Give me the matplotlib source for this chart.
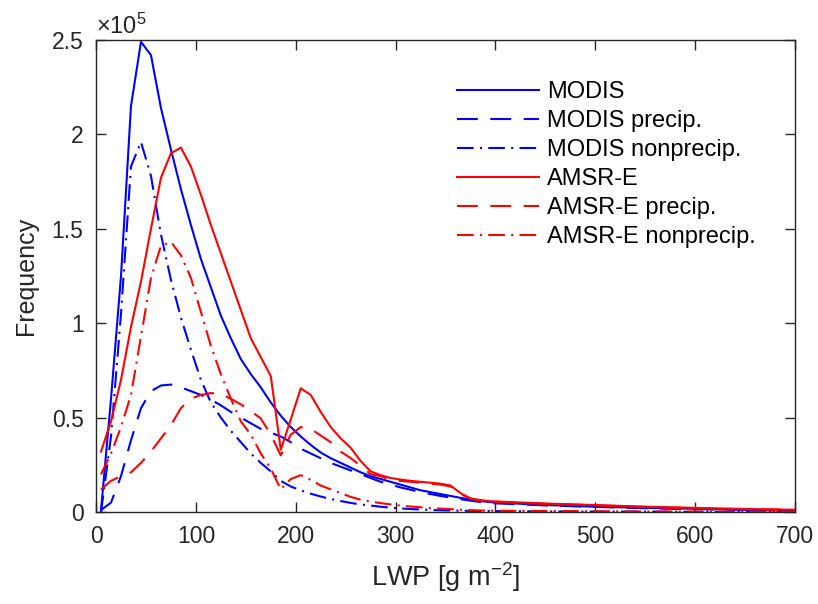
import matplotlib
matplotlib.use("Agg")
import matplotlib.pyplot as plt

plt.rcParams['font.family'] = ['Liberation Sans', 'DejaVu Sans']
plt.rcParams['mathtext.default'] = 'regular'

# LWP bin centres [g m^-2]
lwp = [5, 15, 25, 35, 45, 55, 65, 75, 85, 95,
       105, 115, 125, 135, 145, 155, 165, 175, 185, 195,
       205, 215, 225, 235, 245, 255, 265, 275, 285, 295,
       305, 315, 325, 335, 345, 355, 365, 375, 385, 395,
       450, 500, 550, 600, 650, 700]

# frequencies, in units of 1e5
modis = [0.01, 0.6, 1.25, 2.15, 2.49, 2.42, 2.14, 1.92, 1.71, 1.52,
         1.34, 1.19, 1.04, 0.92, 0.81, 0.73, 0.66, 0.58, 0.51, 0.45,
         0.40, 0.355, 0.315, 0.285, 0.26, 0.235, 0.21, 0.19, 0.175, 0.16,
         0.145, 0.13, 0.115, 0.105, 0.095, 0.085, 0.075, 0.066, 0.058, 0.052,
         0.037, 0.028, 0.022, 0.017, 0.012, 0.008]
modis_precip = [0.01, 0.05, 0.19, 0.38, 0.55, 0.64, 0.67, 0.675, 0.66, 0.64,
                0.62, 0.595, 0.565, 0.53, 0.50, 0.47, 0.44, 0.42, 0.40, 0.37,
                0.335, 0.31, 0.285, 0.26, 0.24, 0.22, 0.20, 0.18, 0.16, 0.145,
                0.13, 0.118, 0.105, 0.095, 0.085, 0.077, 0.068, 0.06, 0.053, 0.047,
                0.035, 0.027, 0.02, 0.015, 0.011, 0.008]
modis_nonprecip = [0.0, 0.4, 1.05, 1.83, 1.96, 1.78, 1.47, 1.23, 1.03, 0.86,
                   0.70, 0.58, 0.50, 0.43, 0.37, 0.31, 0.26, 0.215, 0.165, 0.135,
                   0.115, 0.097, 0.082, 0.069, 0.058, 0.048, 0.04, 0.034, 0.028, 0.023,
                   0.019, 0.016, 0.013, 0.011, 0.009, 0.008, 0.007, 0.006, 0.005, 0.005,
                   0.003, 0.002, 0.002, 0.001, 0.001, 0.001]
amsr = [0.32, 0.48, 0.7, 0.98, 1.22, 1.5, 1.77, 1.9, 1.93, 1.83,
        1.68, 1.52, 1.37, 1.22, 1.07, 0.92, 0.82, 0.72, 0.33, 0.49,
        0.655, 0.62, 0.53, 0.45, 0.39, 0.34, 0.27, 0.215, 0.195, 0.18,
        0.172, 0.165, 0.16, 0.155, 0.15, 0.14, 0.10, 0.072, 0.063, 0.057,
        0.045, 0.037, 0.028, 0.022, 0.016, 0.012]
amsr_precip = [0.12, 0.165, 0.19, 0.21, 0.26, 0.32, 0.39, 0.46, 0.55, 0.60,
               0.62, 0.63, 0.625, 0.60, 0.57, 0.535, 0.495, 0.41, 0.30, 0.41,
               0.45, 0.44, 0.405, 0.37, 0.32, 0.285, 0.245, 0.20, 0.19, 0.17,
               0.165, 0.16, 0.155, 0.15, 0.145, 0.135, 0.095, 0.07, 0.06, 0.055,
               0.043, 0.035, 0.027, 0.02, 0.015, 0.011]
amsr_nonprecip = [0.2, 0.31, 0.45, 0.62, 0.93, 1.24, 1.41, 1.43, 1.36, 1.24,
                  1.06, 0.88, 0.73, 0.60, 0.48, 0.41, 0.31, 0.23, 0.12, 0.175,
                  0.195, 0.17, 0.14, 0.12, 0.10, 0.08, 0.065, 0.055, 0.047, 0.04,
                  0.034, 0.029, 0.025, 0.021, 0.018, 0.015, 0.012, 0.01, 0.008, 0.007,
                  0.005, 0.004, 0.003, 0.002, 0.002, 0.001]

dash = (0, (10, 6))
dashdot = (0, (8, 3, 1, 3))
lw = 1.5

fig = plt.figure(figsize=(8.18, 6.04), dpi=100)
ax = fig.add_axes([0.1174, 0.1523, 0.8546, 0.7815])

ax.plot(lwp, modis, color='blue', lw=lw, label='MODIS')
ax.plot(lwp, modis_precip, color='blue', lw=lw, linestyle=dash, label='MODIS precip.')
ax.plot(lwp, modis_nonprecip, color='blue', lw=lw, linestyle=dashdot, label='MODIS nonprecip.')
ax.plot(lwp, amsr, color='red', lw=lw, label='AMSR-E')
ax.plot(lwp, amsr_precip, color='red', lw=lw, linestyle=dash, label='AMSR-E precip.')
ax.plot(lwp, amsr_nonprecip, color='red', lw=lw, linestyle=dashdot, label='AMSR-E nonprecip.')

ax.set_xlim(0, 700)
ax.set_ylim(0, 2.5)
ax.set_xticks(range(0, 701, 100))
ax.set_yticks([0, 0.5, 1, 1.5, 2, 2.5])
ax.set_yticklabels(['0', '0.5', '1', '1.5', '2', '2.5'])

dark = '#262626'
for s in ax.spines.values():
    s.set_color(dark)
    s.set_linewidth(1.0)
ax.tick_params(direction='in', length=7, width=1.0, colors=dark,
               labelsize=16.5, top=True, right=True, pad=9)

ax.set_xlabel('LWP [g m$^{-2}$]', fontsize=19.5, color=dark, labelpad=9)
ax.set_ylabel('Frequency', fontsize=18, color=dark, labelpad=10)
ax.text(0.0, 1.003, r'$\times10^{5}$', transform=ax.transAxes,
        fontsize=17, color=dark, ha='left', va='bottom')

leg = ax.legend(loc='upper left', bbox_to_anchor=(0.516, 0.913), frameon=False,
                fontsize=17, handlelength=3.5, handletextpad=0.34,
                labelspacing=0.30, borderpad=0, borderaxespad=0)
for t in leg.get_texts():
    t.set_color('black')

fig.savefig('out.png', dpi=100)
